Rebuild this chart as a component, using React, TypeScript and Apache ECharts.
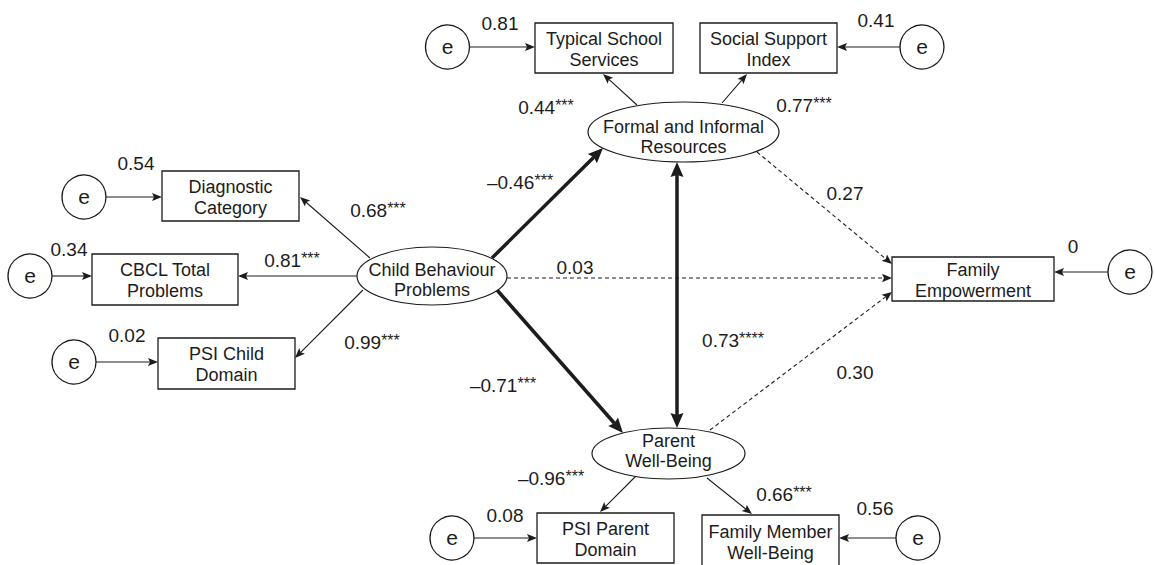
import { useEffect, useRef } from "react";
import * as echarts from "echarts";

// ---------------- data ----------------
const observedVariables = [
  "Diagnostic\nCategory",
  "CBCL Total\nProblems",
  "PSI Child\nDomain",
  "Typical School\nServices",
  "Social Support\nIndex",
  "PSI Parent\nDomain",
  "Family Member\nWell-Being",
  "Family\nEmpowerment",
];
const latentVariables = [
  "Child Behaviour\nProblems",
  "Formal and Informal\nResources",
  "Parent\nWell-Being",
];
const errorVariances = [0.54, 0.34, 0.02, 0.81, 0.41, 0.08, 0.56, 0];
const loadingValues = [0.68, 0.81, 0.99, 0.44, 0.77, -0.96, 0.66];
const loadingStars = ["***", "***", "***", "***", "***", "***", "***"];
const structuralValues = [-0.46, -0.71, 0.73, 0.03, 0.27, 0.3];
const structuralStars = ["***", "***", "****", "", "", ""];
const structuralSignificant = [true, true, true, false, false, false];
const structuralTwoWay = [false, false, true, false, false, false];

// ---------------- layout (positions only) ----------------
const boxLayout = [
  [162, 171, 137, 50],
  [92, 254, 146, 51],
  [158, 338, 137, 51],
  [535, 23, 138, 50],
  [700, 23, 137, 50],
  [537, 513, 137, 50],
  [702, 515, 137, 52],
  [892, 257, 162, 44],
];
const ellipseLayout = [
  [432, 276, 75, 29],
  [683.5, 132, 95.5, 30],
  [668.5, 453.5, 76.5, 25.5],
];
const ellipseTextOffset = [4, 5, -3];
const errorCircleLayout = [
  [84, 197], [30, 276], [74, 362], [447.5, 47], [922, 47], [452, 538], [918, 538], [1130, 272],
];
const errorLabelLayout = [
  [136, 163], [69, 249], [127, 335], [500, 23], [876, 20], [505, 515], [875, 508], [1073, 246],
];
const loadingLineLayout = [
  [370, 258, 300, 197],
  [357, 276, 238, 276],
  [363, 290, 295, 358],
  [637, 105, 603, 74],
  [722, 103, 747, 74],
  [636, 476, 600, 512],
  [707, 478, 752, 514],
];
const loadingLabelLayout = [
  [378, 210], [292, 260], [372, 342], [546, 107], [804, 105], [551, 478], [784, 494],
];
const structuralLineLayout = [
  [492, 258, 603, 148],
  [497, 290, 623, 433],
  [677, 162, 677, 428],
  [507, 278, 892, 278],
  [757, 152, 892, 264],
  [710, 430, 892, 292],
];
const structuralLabelLayout = [
  [520, 182], [503, 385], [733, 340], [575, 267], [845, 193], [855, 372],
];

const INK = "#1c1c1c";
const FONT = "'Liberation Sans', Arial, Helvetica, sans-serif";
const CIRCLE_R = 22;

function fmt(v: number): string {
  if (v === 0) return "0";
  return (v < 0 ? "\u2013" : "") + Math.abs(v).toFixed(2);
}

function arrowHead(x1: number, y1: number, x2: number, y2: number, L: number, W: number) {
  const dx = x2 - x1;
  const dy = y2 - y1;
  const len = Math.sqrt(dx * dx + dy * dy);
  const ux = dx / len;
  const uy = dy / len;
  const bx = x2 - ux * L;
  const by = y2 - uy * L;
  const nx = -uy;
  const ny = ux;
  return {
    inner: [bx + ux * 2, by + uy * 2],
    points: [
      [x2, y2],
      [bx + nx * W, by + ny * W],
      [bx + ux * 2, by + uy * 2],
      [bx - nx * W, by - ny * W],
    ],
  };
}

function arrowElements(
  x1: number, y1: number, x2: number, y2: number,
  opts: { width: number; dashed?: boolean; L: number; W: number; both?: boolean }
) {
  const els: any[] = [];
  const h2 = arrowHead(x1, y1, x2, y2, opts.L, opts.W);
  let sx = x1, sy = y1;
  if (opts.both) {
    const h1 = arrowHead(x2, y2, x1, y1, opts.L, opts.W);
    sx = h1.inner[0];
    sy = h1.inner[1];
    els.push({ type: "polygon", shape: { points: h1.points }, style: { fill: INK }, z: 3 });
  }
  els.push({
    type: "line",
    shape: { x1: sx, y1: sy, x2: h2.inner[0], y2: h2.inner[1] },
    style: { stroke: INK, lineWidth: opts.width, lineDash: opts.dashed ? [4, 3] : null },
    z: 2,
  });
  els.push({ type: "polygon", shape: { points: h2.points }, style: { fill: INK }, z: 3 });
  return els;
}

function numberLabel(x: number, y: number, value: number, stars: string) {
  const text = `{n|${fmt(value)}}` + (stars ? `{s|${stars}}` : "");
  return {
    type: "text",
    x,
    y,
    z: 5,
    style: {
      text,
      align: "center",
      verticalAlign: "middle",
      rich: {
        n: { fontSize: 19, fontFamily: FONT, fill: INK, lineHeight: 20 },
        s: { fontSize: 16, fontFamily: FONT, fill: INK, lineHeight: 14, verticalAlign: "top" },
      },
    },
  };
}

function buildGraphics() {
  const els: any[] = [];

  observedVariables.forEach((name, i) => {
    const [x, y, w, h] = boxLayout[i];
    els.push({
      type: "rect",
      shape: { x, y, width: w, height: h },
      style: { fill: "#fff", stroke: INK, lineWidth: 1.3 },
      z: 4,
    });
    els.push({
      type: "text",
      x: x + w / 2,
      y: y + h / 2 + 1,
      z: 5,
      style: {
        text: name,
        fontSize: 18,
        fontFamily: FONT,
        fill: INK,
        lineHeight: 21,
        align: "center",
        verticalAlign: "middle",
      },
    });
  });

  latentVariables.forEach((name, i) => {
    const [cx, cy, rx, ry] = ellipseLayout[i];
    els.push({
      type: "ellipse",
      shape: { cx, cy, rx, ry },
      style: { fill: "#fff", stroke: INK, lineWidth: 1.2 },
      z: 4,
    });
    els.push({
      type: "text",
      x: cx,
      y: cy + ellipseTextOffset[i],
      z: 5,
      style: {
        text: name,
        fontSize: 18,
        fontFamily: FONT,
        fill: INK,
        lineHeight: 20,
        align: "center",
        verticalAlign: "middle",
      },
    });
  });

  errorVariances.forEach((v, i) => {
    const [cx, cy] = errorCircleLayout[i];
    const [bx, , bw] = boxLayout[i];
    els.push({
      type: "circle",
      shape: { cx, cy, r: CIRCLE_R },
      style: { fill: "#fff", stroke: INK, lineWidth: 1.3 },
      z: 4,
    });
    els.push({
      type: "text",
      x: cx,
      y: cy - 1,
      z: 5,
      style: { text: "e", fontSize: 21, fontFamily: FONT, fill: INK, align: "center", verticalAlign: "middle" },
    });
    const leftOfBox = cx < bx;
    const sx = leftOfBox ? cx + CIRCLE_R : cx - CIRCLE_R;
    const ex = leftOfBox ? bx : bx + bw;
    els.push(...arrowElements(sx, cy, ex, cy, { width: 1.1, L: 10, W: 4 }));
    const [lx, ly] = errorLabelLayout[i];
    els.push(numberLabel(lx, ly, v, ""));
  });

  loadingValues.forEach((v, i) => {
    const [x1, y1, x2, y2] = loadingLineLayout[i];
    els.push(...arrowElements(x1, y1, x2, y2, { width: 1.1, L: 10, W: 4 }));
    const [lx, ly] = loadingLabelLayout[i];
    els.push(numberLabel(lx, ly, v, loadingStars[i]));
  });

  structuralValues.forEach((v, i) => {
    const [x1, y1, x2, y2] = structuralLineLayout[i];
    const sig = structuralSignificant[i];
    els.push(
      ...arrowElements(x1, y1, x2, y2, {
        width: sig ? 3.5 : 1.1,
        dashed: !sig,
        L: sig ? 15 : 10,
        W: sig ? 6.5 : 4.2,
        both: structuralTwoWay[i],
      })
    );
    const [lx, ly] = structuralLabelLayout[i];
    els.push(numberLabel(lx, ly, v, structuralStars[i]));
  });

  return els;
}

export default function App() {
  const ref = useRef<HTMLDivElement>(null);
  useEffect(() => {
    if (!ref.current) return;
    const chart = echarts.init(ref.current, undefined, { renderer: "svg" });
    chart.setOption({
      animation: false,
      backgroundColor: "#fff",
      graphic: { elements: buildGraphics() },
    });
    return () => chart.dispose();
  }, []);
  return (
    <div
      ref={ref}
      style={{ position: "absolute", left: 0, top: 0, width: 1155, height: 565, background: "#fff" }}
    />
  );
}
